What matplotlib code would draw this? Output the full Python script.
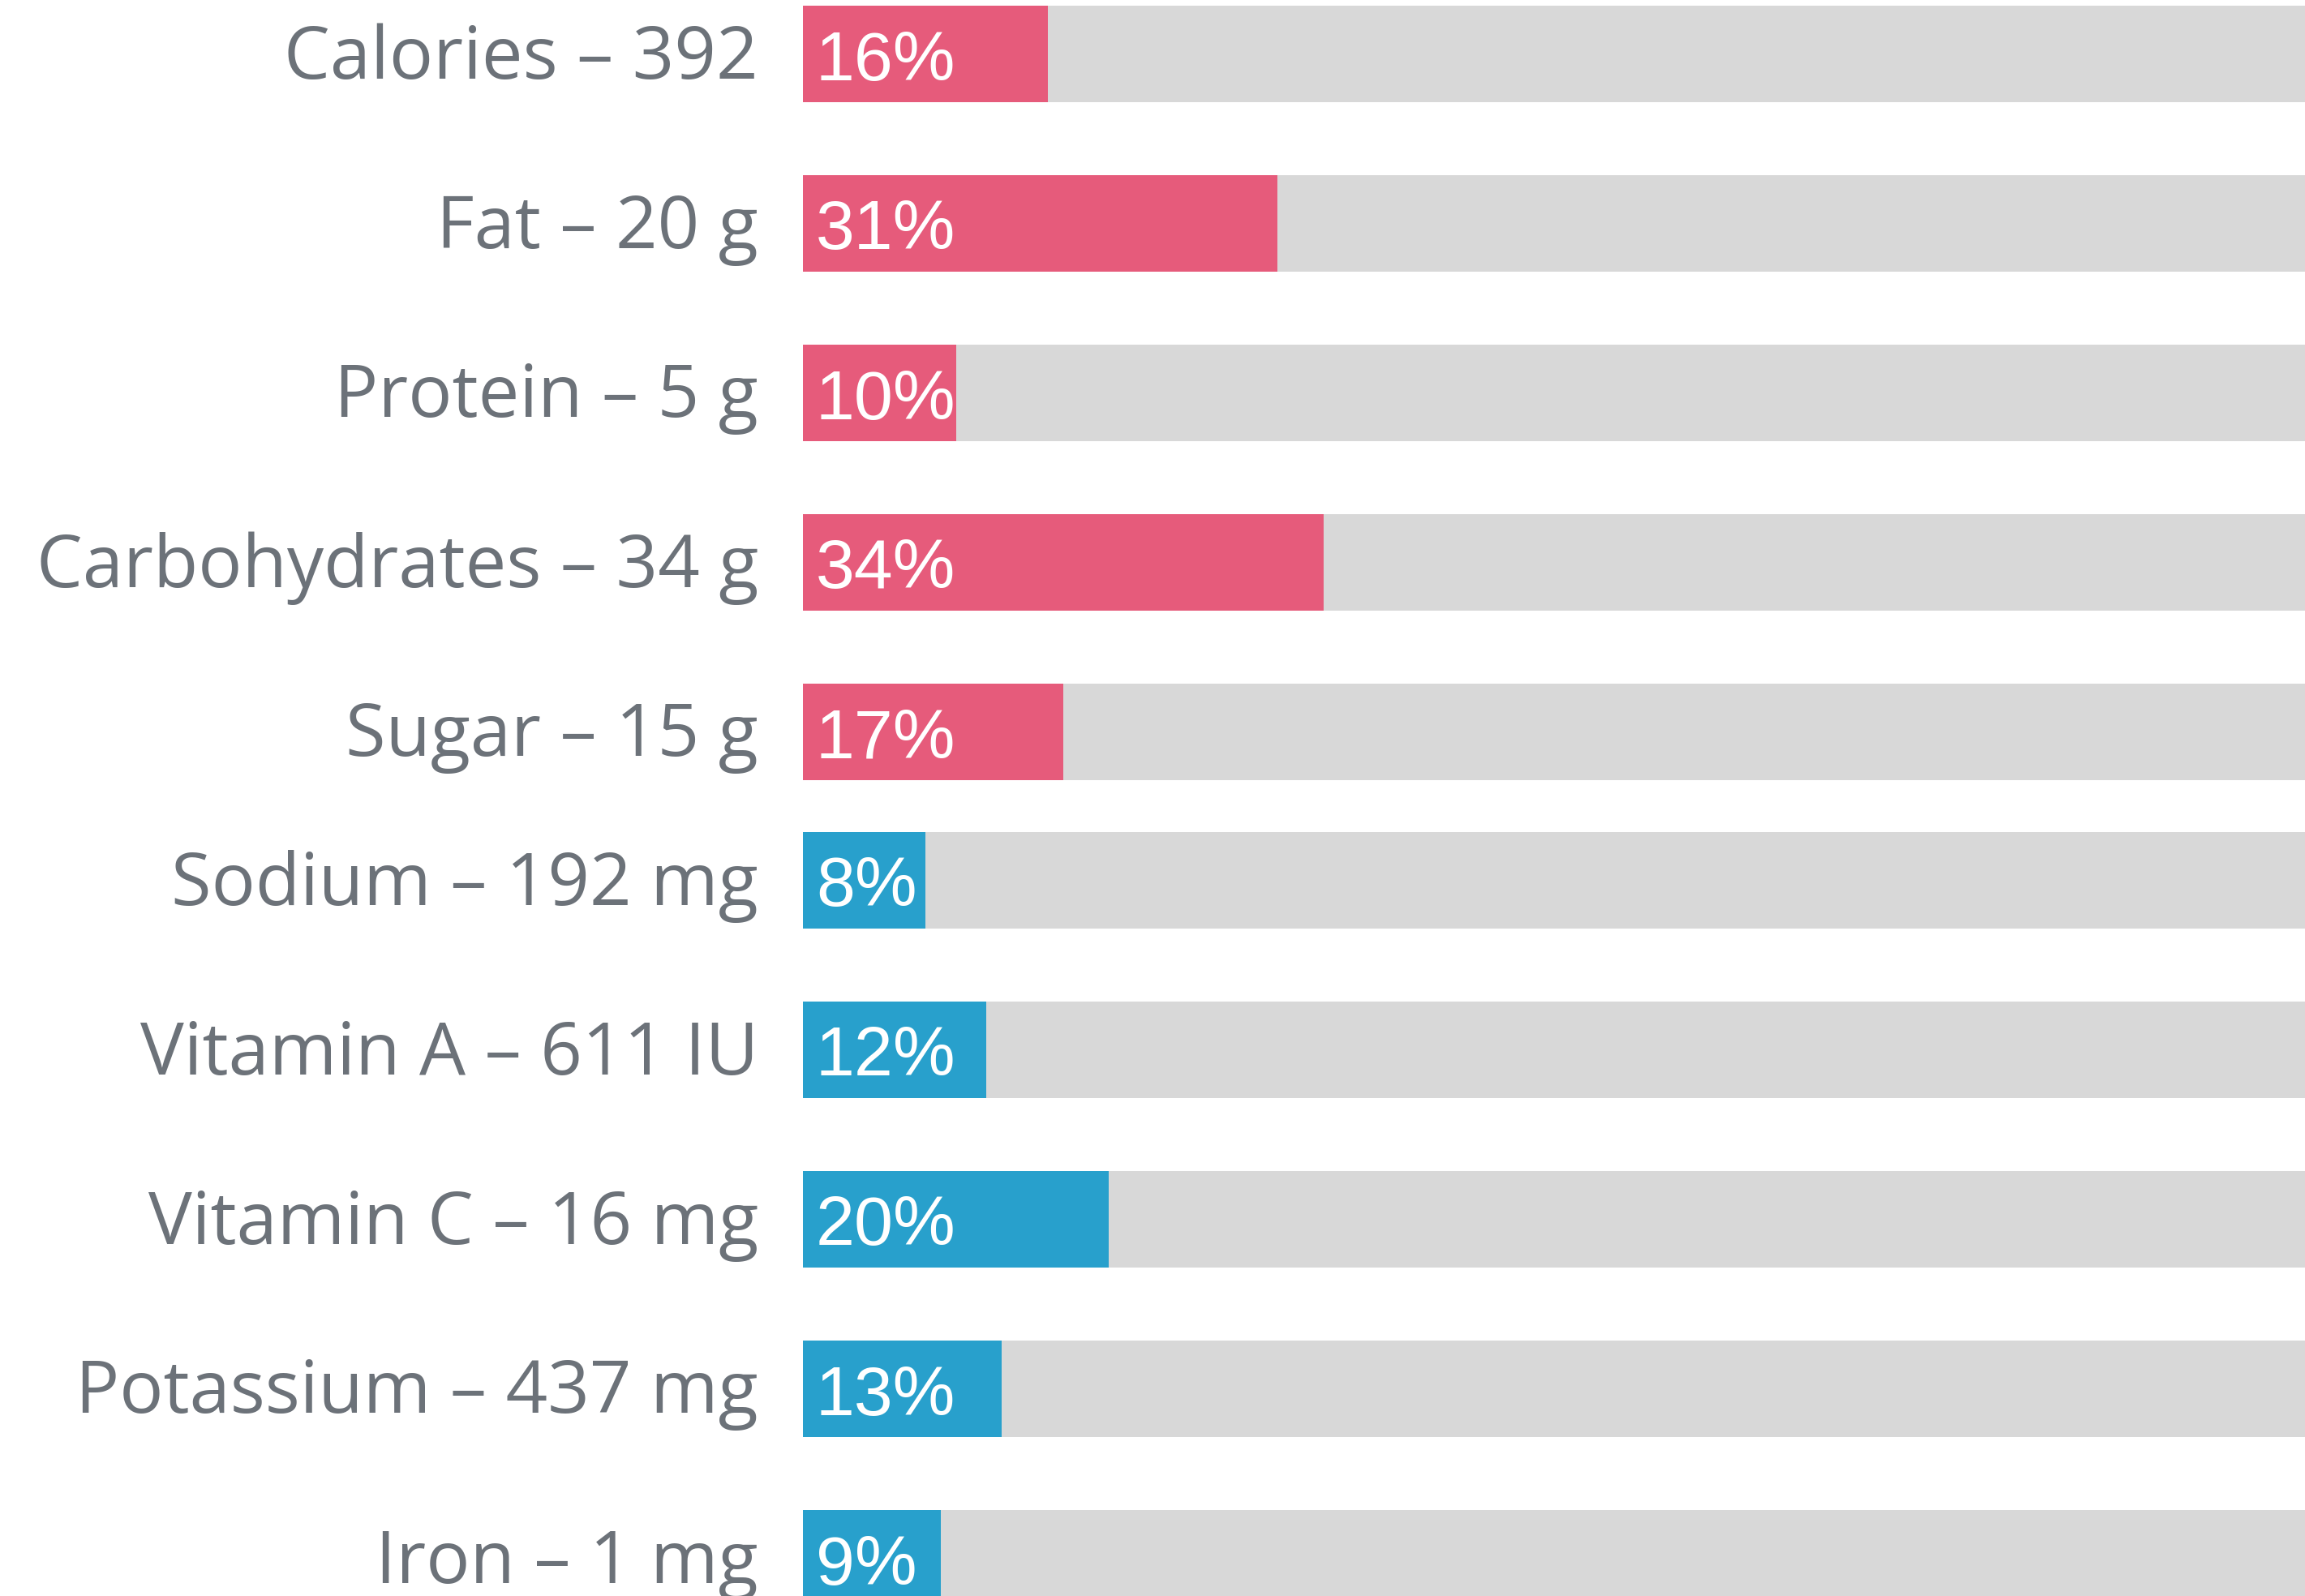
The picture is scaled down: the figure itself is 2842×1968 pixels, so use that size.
import numpy as np
import matplotlib
matplotlib.use('Agg')
import matplotlib.pyplot as plt


NUTRIENTS = ['Calories – 392', 'Fat – 20 g', 'Protein – 5 g', 'Carbohydrates – 34 g', 'Sugar – 15 g',
             'Sodium – 192 mg', 'Vitamin A – 611 IU', 'Vitamin C – 16 mg', 'Potassium – 437 mg', 'Iron – 1 mg']
DAILY_PCT = [16, 31, 10, 34, 17, 8, 12, 20, 13, 9]
GROUP = ['macro', 'macro', 'macro', 'macro', 'macro', 'micro', 'micro', 'micro', 'micro', 'micro']

GROUP_COLORS = {'macro': '#e65b7b', 'micro': '#28a0cc'}
TRACK_COLOR = '#d8d8d8'
LABEL_COLOR = '#6c7279'

W, H = 2842, 1968
ROW_PX = 209.0        # distance between rows
FIRST_CENTER = 66.5   # pixel centre of the first bar
GROUP_SHIFT = -26.0   # second group sits a bit closer
BAR_LEFT = 990.0
FULL_PX = 1887.5      # width of a 100% bar

fig = plt.figure(figsize=(W / 100, H / 100), dpi=100)
ax = fig.add_axes([BAR_LEFT / W, 0, FULL_PX / W, 1])

# row positions in row units
y = np.arange(len(NUTRIENTS), dtype=float)
y = y + np.array([0 if g == 'macro' else GROUP_SHIFT / ROW_PX for g in GROUP])

ax.barh(y, [100] * len(y), height=119 / ROW_PX, color=TRACK_COLOR, linewidth=0)
ax.barh(y, DAILY_PCT, height=119 / ROW_PX, color=[GROUP_COLORS[g] for g in GROUP], linewidth=0)

px = 100 / FULL_PX  # data units per pixel along x
for yi, name, pct in zip(y, NUTRIENTS, DAILY_PCT):
    ax.text(-55 * px, yi + 30 / ROW_PX, name, ha='right', va='baseline', fontsize=65,
            family=['Open Sans', 'DejaVu Sans'], color=LABEL_COLOR, clip_on=False)
    ax.text(16 * px, yi + 32 / ROW_PX, f'{pct}%', ha='left', va='baseline', fontsize=62,
            family=['Liberation Sans', 'DejaVu Sans'], color='white')

ax.set_xlim(0, 100)
ax.set_ylim((H - FIRST_CENTER) / ROW_PX, -FIRST_CENTER / ROW_PX)
ax.axis('off')

fig.savefig('out.png', dpi=100, facecolor='white')
